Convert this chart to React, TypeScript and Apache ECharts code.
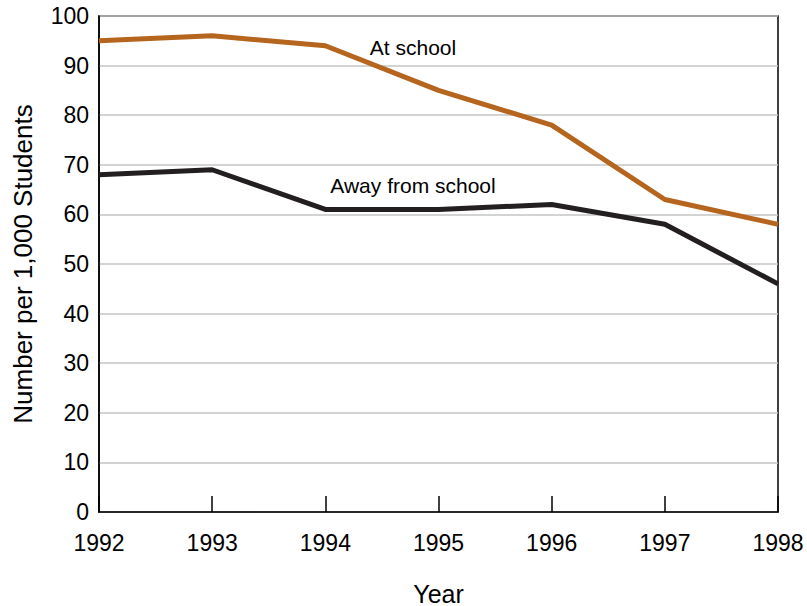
import React, { useEffect, useRef } from "react";
import * as echarts from "echarts";

const years = ["1992", "1993", "1994", "1995", "1996", "1997", "1998"];
const atSchool = [95, 96, 94, 85, 78, 63, 58];
const awayFromSchool = [68, 69, 61, 61, 62, 58, 46];
const yTicks = { min: 0, max: 100, interval: 10 };

export default function App() {
  const ref = useRef<HTMLDivElement>(null);
  useEffect(() => {
    if (!ref.current) return;
    const chart = echarts.init(ref.current, null, { renderer: "svg" });
    const font = "Liberation Sans, Arial, Helvetica, sans-serif";
    chart.setOption({
      animation: false,
      backgroundColor: "#ffffff",
      textStyle: { fontFamily: font },
      grid: {
        left: 99,
        right: 29,
        top: 16,
        bottom: 94,
        show: true,
        outerBoundsMode: "none",
        containLabel: false,
        borderColor: "#000000",
        borderWidth: 1.5,
        backgroundColor: "transparent",
      },
      xAxis: {
        type: "category",
        data: years,
        boundaryGap: false,
        name: "Year",
        nameLocation: "middle",
        nameGap: 69,
        nameTextStyle: { fontSize: 25, color: "#000", fontFamily: font },
        axisLine: { show: true, lineStyle: { color: "#000", width: 1.5 } },
        axisTick: { show: true, inside: true, length: 16, lineStyle: { color: "#000", width: 1.5 } },
        axisLabel: { fontSize: 23, color: "#000", margin: 19, fontFamily: font },
        splitLine: { show: false },
      },
      yAxis: {
        type: "value",
        min: yTicks.min,
        max: yTicks.max,
        interval: yTicks.interval,
        name: "Number per 1,000 Students",
        nameLocation: "middle",
        nameGap: 63,
        nameTextStyle: { fontSize: 26, color: "#000", fontFamily: font },
        axisLine: { show: true, lineStyle: { color: "#000", width: 1.5 } },
        axisTick: { show: false },
        axisLabel: { fontSize: 23, color: "#000", margin: 10, fontFamily: font },
        splitLine: { show: true, lineStyle: { color: "#c4c4c4", width: 1.5 } },
      },
      series: [
        {
          name: "At school",
          type: "line",
          data: atSchool,
          symbol: "none",
          lineStyle: { color: "#B5651D", width: 5 },
          z: 3,
        },
        {
          name: "Away from school",
          type: "line",
          data: awayFromSchool,
          symbol: "none",
          lineStyle: { color: "#231F20", width: 5 },
          z: 3,
        },
      ],
      graphic: [
        {
          type: "text",
          x: 413,
          y: 47,
          style: {
            text: "At school",
            fontSize: 21,
            fontFamily: font,
            fill: "#000",
            align: "center",
            verticalAlign: "middle",
          },
        },
        {
          type: "text",
          x: 413,
          y: 185,
          style: {
            text: "Away from school",
            fontSize: 21,
            fontFamily: font,
            fill: "#000",
            align: "center",
            verticalAlign: "middle",
          },
        },
      ],
    });
    return () => chart.dispose();
  }, []);
  return <div ref={ref} style={{ width: 807, height: 606, position: "absolute", left: 0, top: 0 }} />;
}
